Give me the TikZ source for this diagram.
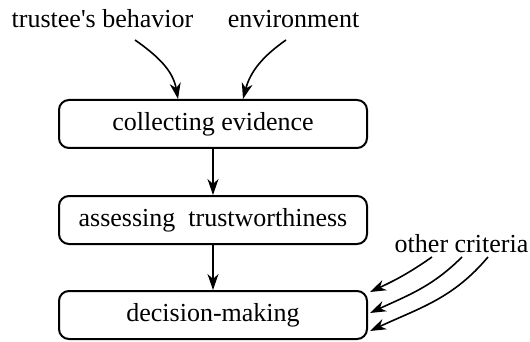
\documentclass[tikz,border=0pt]{standalone}
\usepackage{fontspec}
\setmainfont{Liberation Serif}
\usetikzlibrary{arrows.meta}

\begin{document}
\begin{tikzpicture}[x=1pt, y=1pt,
		box/.style={draw, line width=2pt, rounded corners=10pt, minimum width=308pt, minimum height=48pt, inner sep=0pt, font=\fontsize{26}{30}\selectfont},
		lbl/.style={inner sep=0pt, anchor=base, font=\fontsize{26}{30}\selectfont},
		arr/.style={-{Stealth[length=16pt, width=11pt, inset=5pt]}, line width=1.6pt}]
		\useasboundingbox (0,0) rectangle (530,-342);

		\node[box] (ce) at (213,-124) {collecting evidence};
		\node[box] (at) at (213,-220) {assessing~~trustworthiness};
		\node[box] (dm) at (213,-315) {decision-making};

		\node[lbl] (tb) at (102.5,-28) {trustee\textquotesingle s behavior};
		\node[lbl] (env) at (293.5,-28) {environment};
		\node[lbl] (oc) at (461.5,-252) {other criteria};

		\coordinate (tbs) at (135,-40);
		\coordinate (envs) at (286,-40);
		\coordinate (oc1) at (432,-257);
		\coordinate (oc2) at (462,-257);
		\coordinate (oc3) at (488,-257);

		\draw[arr] (tbs) to[out=-35, in=100] ([xshift=-35pt]ce.north);
		\draw[arr] (envs) to[out=-145, in=75] ([xshift=30pt]ce.north);
		\draw[arr] (ce) -- (at);
		\draw[arr] (at) -- (dm);

		\draw[arr] (oc1) to[out=-145, in=25] ([shift={(2pt,23pt)}]dm.east);
		\draw[arr] (oc2) to[out=-135, in=25] ([shift={(2pt,2pt)}]dm.east);
		\draw[arr] (oc3) to[out=-130, in=25] ([shift={(2pt,-16pt)}]dm.east);
	\end{tikzpicture}
\end{document}
